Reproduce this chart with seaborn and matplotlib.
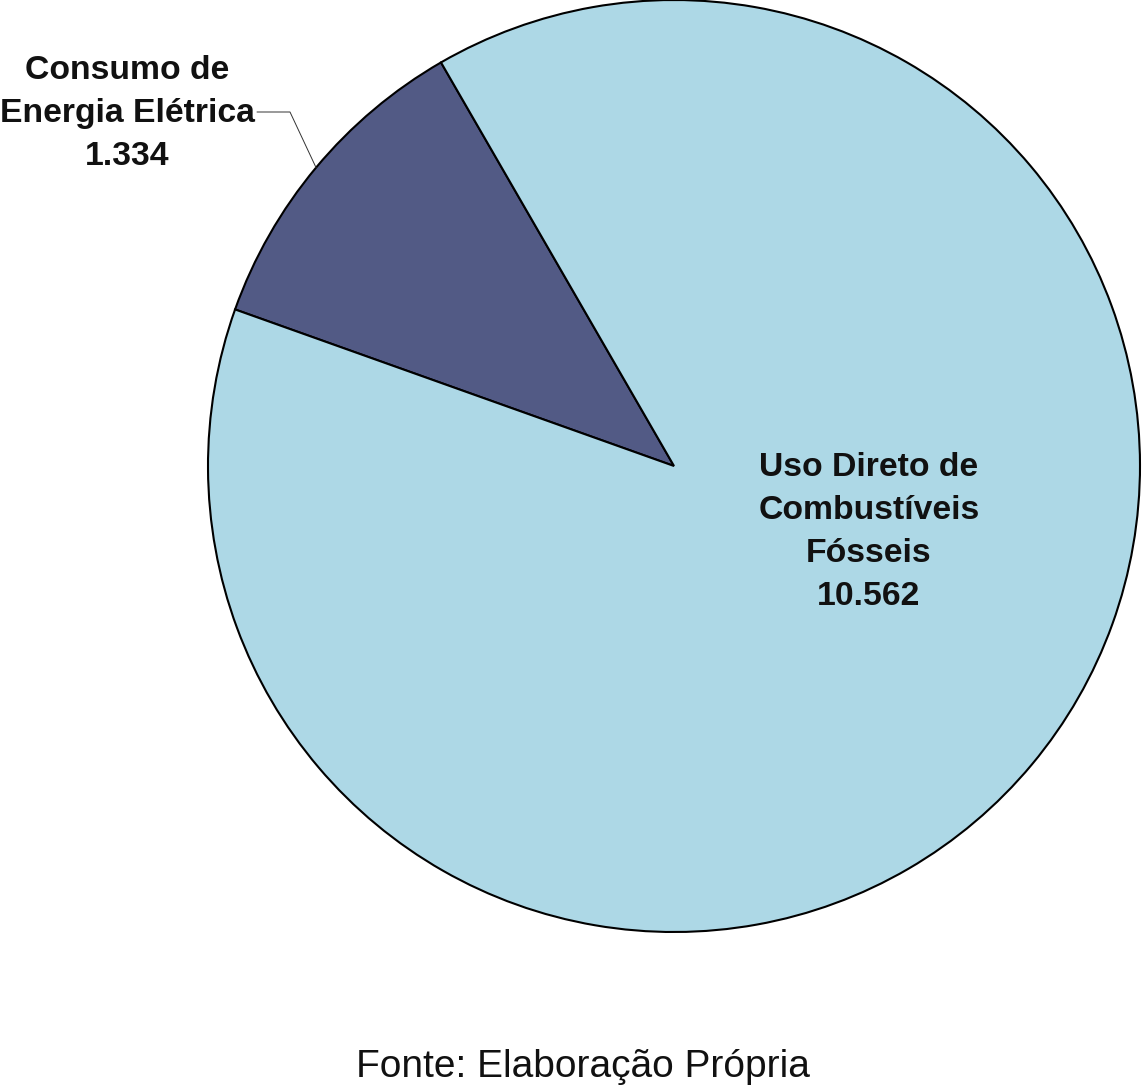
import numpy as np
import matplotlib
matplotlib.use("Agg")
import matplotlib.pyplot as plt
import seaborn as sns

# Data
categories = ["Consumo de\nEnergia Elétrica", "Uso Direto de\nCombustíveis\nFósseis"]
values = [1334, 10562]
value_labels = ["1.334", "10.562"]
colors = ["#525A85", "#ADD8E6"]
footer = "Fonte: Elaboração Própria"

sns.set_theme(style="white")
plt.rcParams["font.family"] = ["Liberation Sans", "DejaVu Sans"]

W, H = 1143, 1089
fig = plt.figure(figsize=(W / 100, H / 100), dpi=100)
ax = fig.add_axes([0, 0, 1, 1])

# pixel geometry of the pie
cx, cy, R = 674, 466, 466

start = 120
wedges, _ = ax.pie(values, colors=colors, startangle=start, counterclock=True,
                   radius=1.0, center=(0, 0),
                   wedgeprops=dict(edgecolor="black", linewidth=1.5))
ax.set_xlim(-cx / R, (W - cx) / R)
ax.set_ylim(-(H - cy) / R, cy / R)
ax.set_aspect("equal")
ax.axis("off")

tot = sum(values)
# small slice label with leader line
mid = np.deg2rad(start + 0.5 * 360 * values[0] / tot)
px, py = np.cos(mid), np.sin(mid)
ex, ey = (290 - cx) / R, (cy - 112) / R
tx, ty = (257 - cx) / R, ey
ax.plot([px, ex, tx], [py, ey, ty], color="#333333", lw=0.7)
ax.text((127 - cx) / R, (cy - 114) / R, f"{categories[0]}\n{value_labels[0]}",
        ha="center", va="center", ma="center", fontsize=24.3, fontweight="bold",
        linespacing=1.5, color="#111111")

# big slice label
ax.text((869 - cx) / R, (cy - 532) / R, f"{categories[1]}\n{value_labels[1]}",
        ha="center", va="center", ma="center", fontsize=24.3, fontweight="bold",
        linespacing=1.5, color="#111111")

fig.text(583 / W, 1 - 1067 / H, footer, ha="center", va="center",
         fontsize=28, color="#111111")

fig.savefig("out.png", dpi=100, facecolor="white")
